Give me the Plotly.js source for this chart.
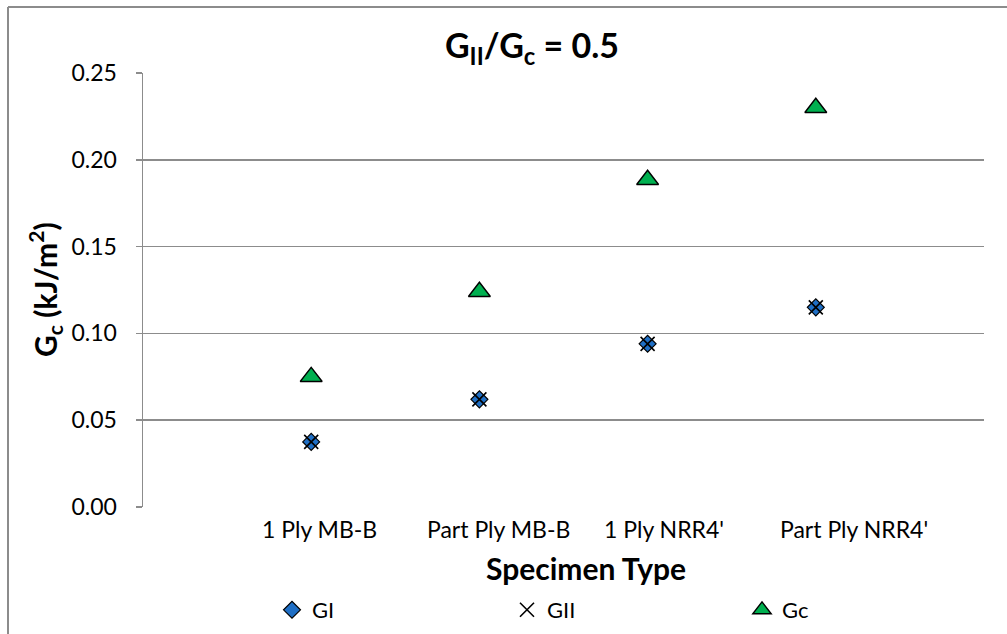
<!DOCTYPE html>
<html>
<head>
<meta charset="utf-8">
<script src="https://cdn.plot.ly/plotly-3.0.1.min.js"></script>
<style>html,body{margin:0;padding:0;background:#fff;}#chart{width:1007px;height:634px;}</style>
</head>
<body>
<div id="chart"></div>
<script>
// ---- data ----
const categories = ["1 Ply MB-B", "Part Ply MB-B", "1 Ply NRR4'", "Part Ply NRR4'"];
const seriesNames = ["GI", "GII", "Gc"];
const GI  = [0.0375, 0.062, 0.094, 0.115];
const GII = [0.0375, 0.062, 0.094, 0.115];
const Gc  = [0.075, 0.124, 0.1885, 0.230];
const yTickVals = [0, 0.05, 0.10, 0.15, 0.20, 0.25];
const yTickText = ["0.00", "0.05", "0.10", "0.15", "0.20", "0.25"];

// ---- style ----
const FONT = "Lato, 'Open Sans', sans-serif";
const grid = "#8c8c8c";
const xpos = categories.map((c, i) => i + 1);
const labelShift = [8, 19, 16, 38];
const PH = 433.4, PW = 841;

const traces = [
  {x: xpos, y: GI, name: seriesNames[0], type: "scatter", mode: "markers",
   marker: {symbol: "diamond", size: 13, color: "#1f6fc5", line: {color: "#000", width: 1.2}}},
  {x: xpos, y: GII, name: seriesNames[1], type: "scatter", mode: "markers",
   marker: {symbol: "x-thin", size: 14, color: "#000", line: {color: "#000", width: 1.6}}},
  {x: xpos, y: Gc, name: seriesNames[2], type: "scatter", mode: "markers",
   marker: {symbol: "triangle-up", size: 19, color: "#00b050", line: {color: "#000", width: 1.4}}}
];

const annotations = categories.map((c, i) => ({
  text: c, x: xpos[i], xref: "x", y: 0, yref: "paper", yanchor: "top", xanchor: "center",
  yshift: -6, xshift: labelShift[i], showarrow: false,
  font: {family: FONT, size: 23, color: "#000"}
}));
annotations.push({
  text: "<b>G<sub>c</sub> (kJ/m<sup>2</sup>)</b>", textangle: -90, xref: "paper", yref: "paper",
  x: -98 / PW, y: 0.5, xanchor: "center", yanchor: "middle", showarrow: false,
  font: {family: FONT, size: 30, color: "#000"}
});
annotations.push({
  text: "<b>Specimen Type</b>", xref: "paper", yref: "paper",
  x: (586 - 143) / PW, y: -61 / PH, xanchor: "center", yanchor: "middle", showarrow: false,
  font: {family: FONT, size: 30, color: "#000"}
});

const layout = {
  width: 1007, height: 634,
  margin: {l: 143, r: 23, t: 73, b: 127},
  paper_bgcolor: "#fff", plot_bgcolor: "#fff",
  title: {text: "<b>G<sub>II</sub>/G<sub>c</sub> = 0.5</b>", x: 532 / 1007, xanchor: "center",
          y: 1 - 46 / 634, yanchor: "middle", font: {family: FONT, size: 34, color: "#000"}},
  xaxis: {range: [0, 5], showgrid: false, zeroline: false, showticklabels: false, ticks: "",
          showline: false, fixedrange: true},
  yaxis: {range: [0, 0.25], tickvals: yTickVals, ticktext: yTickText, showgrid: true,
          gridcolor: grid, gridwidth: 1.5, zeroline: false, showline: true, linecolor: grid,
          linewidth: 1.5, ticks: "outside", ticklen: 6, tickcolor: grid, tickwidth: 1.5,
          ticklabelstandoff: 14, tickfont: {family: FONT, size: 23, color: "#000"}},
  showlegend: true,
  legend: {orientation: "h", x: (272 - 143) / PW, xanchor: "left",
           yref: "container", y: 1 - 589 / 634, yanchor: "top",
           entrywidth: 190, entrywidthmode: "pixels", itemwidth: 30, tracegroupgap: 0,
           font: {family: FONT, size: 22, color: "#000"}, bgcolor: "rgba(0,0,0,0)"},
  annotations: annotations,
  shapes: [
    {type: "line", xref: "paper", yref: "paper", x0: -135 / PW, x1: -135 / PW, y0: 1 + 66 / PH, y1: -130 / PH,
     line: {color: "#8c8c8c", width: 2}},
    {type: "line", xref: "paper", yref: "paper", x0: -135 / PW, x1: 1 + 25 / PW, y0: 1 + 66 / PH, y1: 1 + 66 / PH,
     line: {color: "#8c8c8c", width: 2}}
  ]
};

Plotly.newPlot("chart", traces, layout, {displayModeBar: false, staticPlot: true});
</script>
</body>
</html>
